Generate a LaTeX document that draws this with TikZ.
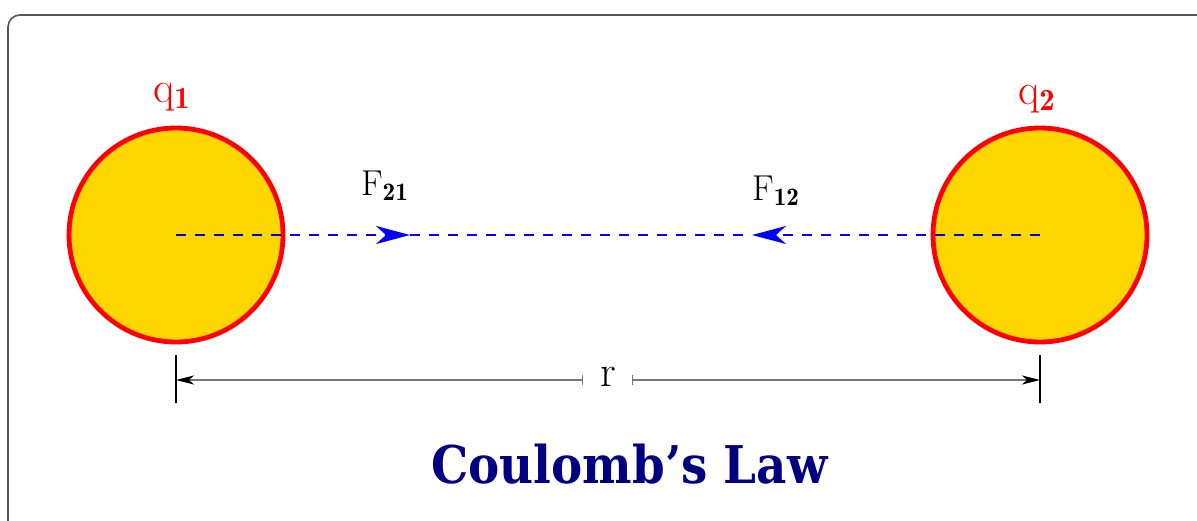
\documentclass[tikz,border=0pt]{standalone}
\usepackage{fontspec}
\newfontfamily\titlefont{DejaVu Serif Condensed}
\usetikzlibrary{arrows.meta}
\definecolor{gold}{HTML}{FFD700}
\definecolor{navy}{HTML}{000080}
\definecolor{framegray}{HTML}{555555}
\definecolor{dimgray}{HTML}{777777}
\begin{document}
\begin{tikzpicture}[x=0.5pt,y=-0.5pt,
  charge/.style={circle, draw=red, line width=2.4pt, fill=gold, minimum size=107pt, inner sep=0pt},
  chargelabel/.style={text=red, font=\fontsize{22}{26}\selectfont, inner sep=0pt},
  forcelabel/.style={font=\fontsize{18}{22}\selectfont, inner sep=0pt},
  fieldline/.style={draw=blue, line width=1.1pt, dash pattern=on 5pt off 4.5pt},
  forcetip/.style={-{Stealth[length=17pt,width=9pt,inset=5pt]}},
  dimline/.style={draw=dimgray, line width=0.65pt},
  dimtick/.style={draw=black, line width=0.8pt}]
\useasboundingbox (0,0) rectangle (1197,520);
\clip (0,0) rectangle (1197,520);
\draw[framegray, line width=0.8pt, rounded corners=6pt] (8,15) rectangle (1240,580);

\node[charge] (c1) at (176,235) {};
\node[charge] (c2) at (1040,235) {};
\node[chargelabel] (q1) at (172,97) {$\mathrm{q}_{\mathbf{1}}$};
\node[chargelabel] (q2) at (1037,99) {$\mathrm{q}_{\mathbf{2}}$};

\coordinate (a1) at (410,235);
\coordinate (a2) at (752,235);
\draw[fieldline, forcetip] (c1.center) -- (a1);
\draw[fieldline] (a1) -- (a2);
\draw[fieldline, forcetip] (c2.center) -- (a2);
\node[forcelabel] (F21) at (385,186) {$\mathrm{F}_{\mathbf{21}}$};
\node[forcelabel] (F12) at (776,191) {$\mathrm{F}_{\mathbf{12}}$};

\coordinate (t1top) at (176,355);
\coordinate (t1bot) at (176,403);
\coordinate (t2top) at (1040,355);
\coordinate (t2bot) at (1040,403);
\draw[dimtick] (t1top) -- (t1bot);
\draw[dimtick] (t2top) -- (t2bot);
\coordinate (d1) at (176,380);
\coordinate (d2) at (1040,380);
\coordinate (g1) at (583,380);
\coordinate (g2) at (632,380);
\node[chargelabel, text=black] (r) at (608,377) {r};
\draw[dimline, {Bar[width=5pt]}-{Stealth[length=9pt,width=4.5pt,inset=2.5pt,black]}] (g1) -- (d1);
\draw[dimline, {Bar[width=5pt]}-{Stealth[length=9pt,width=4.5pt,inset=2.5pt,black]}] (g2) -- (d2);

\node[text=navy, font=\titlefont\bfseries\fontsize{26}{30}\selectfont, anchor=base, inner sep=0pt] (title) at (629.5,483) {Coulomb’s Law};
\end{tikzpicture}
\end{document}
